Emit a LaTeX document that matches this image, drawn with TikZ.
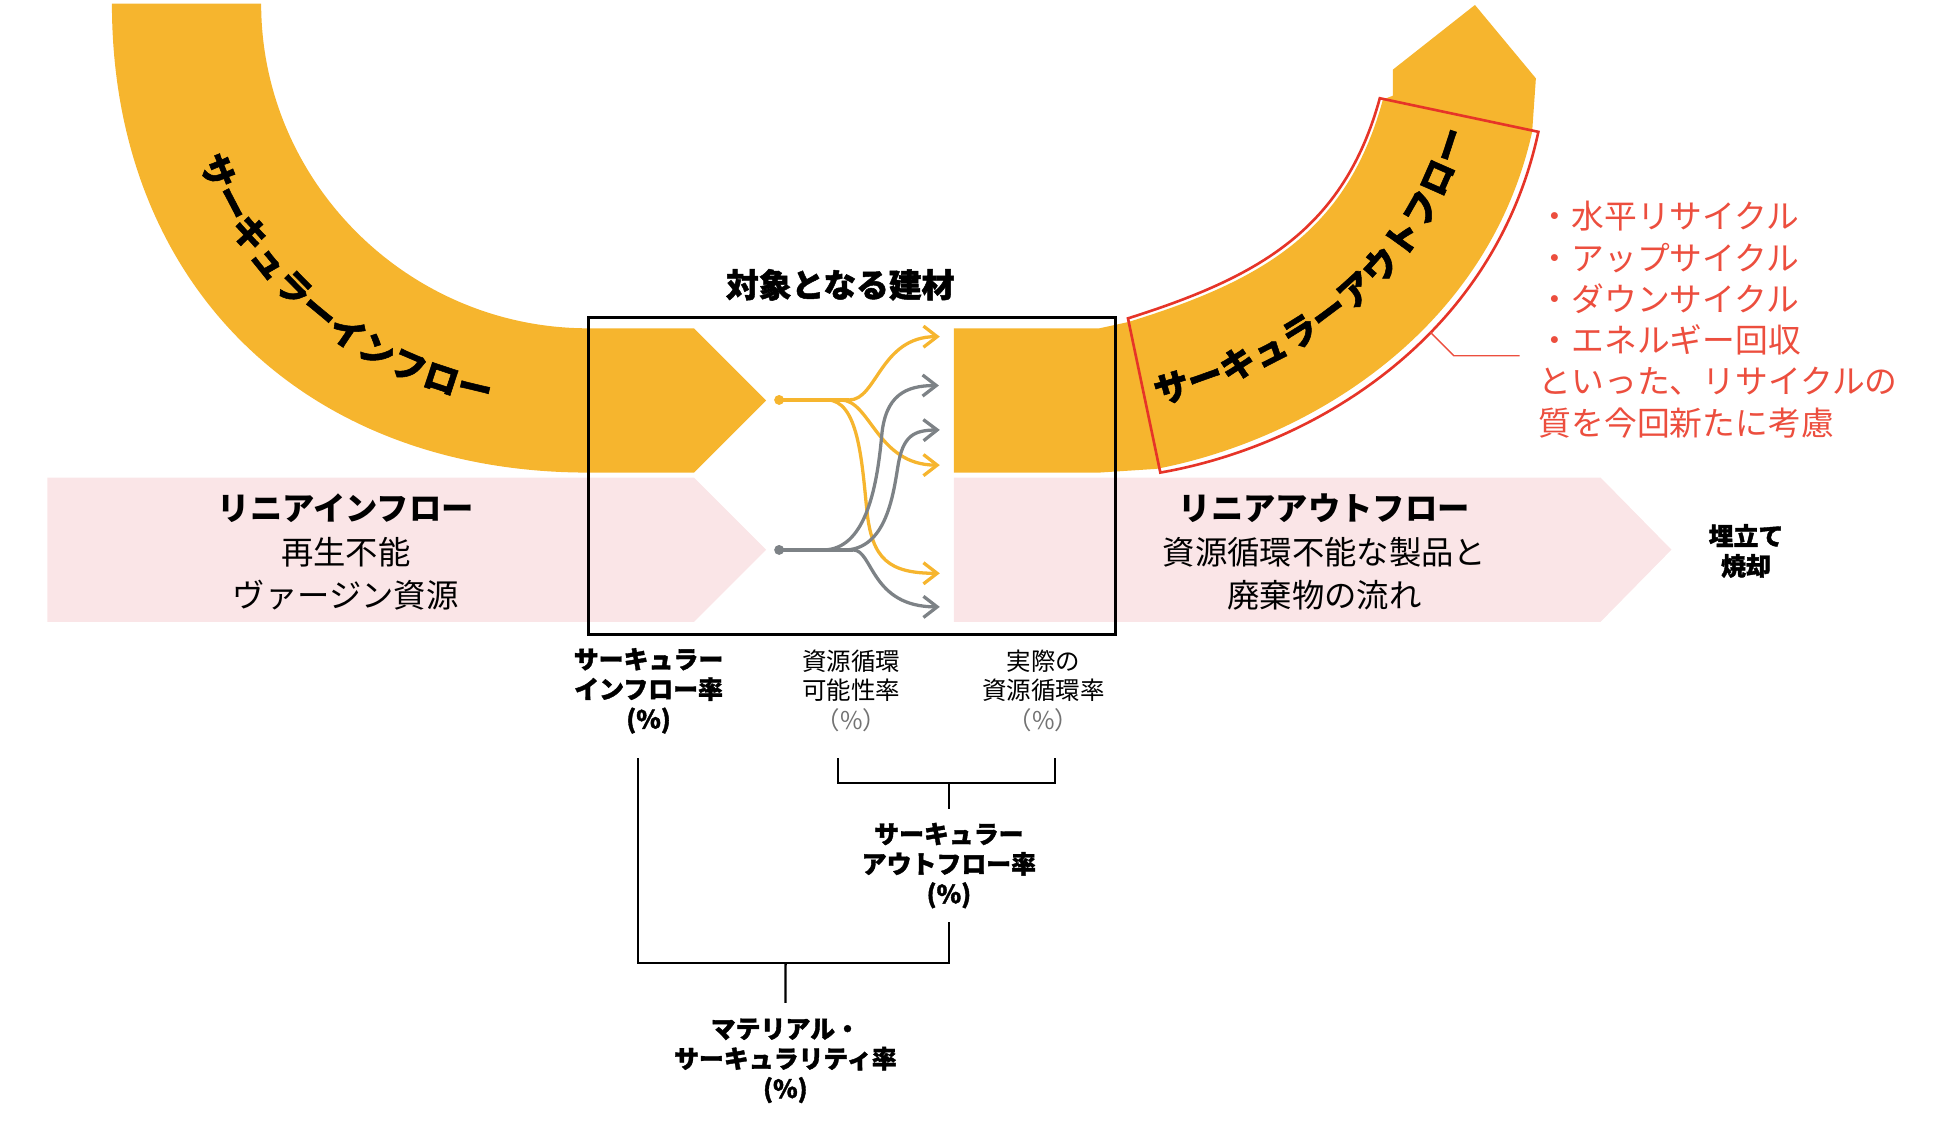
\documentclass[tikz,border=0pt]{standalone}
\usepackage{fontspec}
\newfontfamily\jp{Noto Sans CJK JP}
\newcommand\heavy{\bfseries\addfontfeature{FakeBold=1.5}}
\usetikzlibrary{arrows.meta,decorations.text}
\definecolor{flowor}{RGB}{246,181,46}
\definecolor{flowpk}{RGB}{250,229,231}
\definecolor{flowgr}{RGB}{125,130,134}
\definecolor{markred}{RGB}{230,52,40}
\definecolor{notered}{RGB}{236,78,62}
\tikzset{
  branch/.style={line width=1.5pt,line cap=round,-{Straight Barb[length=2.2mm,width=3.4mm]}},
  bracket/.style={line width=1.05pt},
  flowtxt/.style={font={\jp\fontsize{14.8}{19.9}\selectfont},align=center,inner sep=0pt},
  notetxt/.style={font={\jp\fontsize{15}{18.9}\selectfont},text=notered,inner sep=0pt},
  ratebold/.style={font={\jp\heavy\fontsize{11.4}{13.7}\selectfont},align=center,inner sep=0pt},
  ratethin/.style={font={\jp\fontsize{11.2}{13.7}\selectfont},align=center,inner sep=0pt},
}
\begin{document}
\begin{tikzpicture}[x=0.02cm,y=-0.02cm]
  \useasboundingbox (0,0) rectangle (1568,912);
  \fill[flowpk] (38,384) -- (558,384) -- (616,442) -- (558,500) -- (38,500) -- cycle;
  \fill[flowpk] (767,384) -- (1287,384) -- (1344,442) -- (1287,500) -- (767,500) -- cycle;
  \fill[flowor] (90,3) .. controls (90,229) and (245,380) .. (473,380) -- (558,380) -- (616,322)
    -- (558,264) -- (473,264) .. controls (328,264) and (210,146) .. (210,3) -- cycle;
  \fill[flowor] (767,264) -- (884,264) -- (907,259) .. controls (1014,226) and (1083,187) .. (1112,80)
    -- (1120,77) -- (1120,56) -- (1186,4) -- (1235,63) -- (1232,106)
    .. controls (1196,268) and (1050,354) .. (930,377) -- (884,380) -- (767,380) -- cycle;
  \draw[markred,line width=1.2pt] (907,256) -- (933,380) .. controls (1054,359) and (1201,273) .. (1237,106)
    -- (1109.5,79) .. controls (1080.4,185) and (1011.5,223) .. (907,256) -- cycle;
  \draw[notered,line width=0.6pt] (1150,267) -- (1169,286) -- (1222,286);
  \node[draw,line width=1.35pt,minimum width=8.48cm,minimum height=5.11cm,inner sep=0pt] (target) at (685,382.75) {};
  \node[font={\jp\heavy\fontsize{15}{18}\selectfont},inner sep=0pt] (title) at (675.6,229) {対象となる建材};
  % branches inside the box
  \begin{scope}[flowor]
    \fill (626.5,321.6) circle (4);
    \draw[line width=1.5pt] (626.5,321.6) -- (683,321.6);
    \draw[branch] (683,321.6) .. controls (705,321.6) and (708,270.7) .. (755.7,270.7);
    \draw[branch] (676,321.6) .. controls (700,321.6) and (705,374) .. (755.7,374);
    \draw[branch] (665,321.6) .. controls (690,321.6) and (693,370) .. (697,410) .. controls (701,450) and (715,461) .. (755.7,461);
  \end{scope}
  \begin{scope}[flowgr]
    \fill (626.5,442.2) circle (4);
    \draw[line width=1.5pt] (626.5,442.2) -- (686,442.2);
    \draw[branch] (662,442.2) .. controls (695,442) and (705,395) .. (709,350) .. controls (712,318) and (728,310) .. (755,310);
    \draw[branch] (681,442.2) .. controls (712,440) and (718,400) .. (722,375) .. controls (726,350) and (735,346) .. (755.7,345.7);
    \draw[branch] (686,442.2) .. controls (702,442.2) and (700,488) .. (755.7,488);
  \end{scope}
  \path[decorate,decoration={text along path,text align=center,raise=-6pt,
    text={|\jp\heavy\fontsize{16}{18}\selectfont|サーキュラーインフロー}}]
    (150,3) .. controls (150,194.5) and (280,322) .. (473,322) -- (519,322);
  \path[decorate,decoration={text along path,text align=center,raise=-6pt,
    text={|\jp\heavy\fontsize{16}{18}\selectfont|サーキュラーアウトフロー}}]
    (918.5,318) .. controls (1032,290) and (1139.5,227.5) .. (1172,93);
  \node[flowtxt] (lin) at (278,444) {{\bfseries リニアインフロー}\\再生不能\\ヴァージン資源};
  \node[flowtxt] (lout) at (1065,444) {{\bfseries リニアアウトフロー}\\資源循環不能な製品と\\廃棄物の流れ};
  \node[ratebold] (waste) at (1404,443) {埋立て\\焼却};
  \foreach \t [count=\i] in {・水平リサイクル,・アップサイクル,・ダウンサイクル,・エネルギー回収,といった、リサイクルの,質を今回新たに考慮}
    \node[notetxt,anchor=west] (note\i) at (1237,140.8+33.2*\i) {\t};
  % rates
  \node[ratebold] (cin) at (521.5,555.5) {サーキュラー\\インフロー率\\(\%)};
  \node[ratethin] (rp) at (684.5,555.5) {資源循環\\可能性率\\\textcolor{black!55}{（\%）}};
  \node[ratethin] (ar) at (839,555.5) {実際の\\資源循環率\\\textcolor{black!55}{（\%）}};
  \node[ratebold,inner sep=6pt] (cout) at (763,696) {サーキュラー\\アウトフロー率\\(\%)};
  \node[ratebold,inner sep=7pt] (mc) at (631.5,853) {マテリアル・\\サーキュラリティ率\\(\%)};
  \coordinate (cinfoot) at (513,609.7);
  \coordinate (rpfoot) at (673.6,609.7);
  \coordinate (arfoot) at (848.4,609.7);
  \coordinate (outjoin) at (763,629.8);
  \coordinate (mcjoin) at (631.7,774.5);
  \draw[bracket] (rpfoot) |- (outjoin) -| (arfoot);
  \draw[bracket] (outjoin) -- (cout);
  \draw[bracket] (cinfoot) |- (mcjoin) -| (cout.south);
  \draw[bracket] (mcjoin) -- (mc);
\end{tikzpicture}
\end{document}
